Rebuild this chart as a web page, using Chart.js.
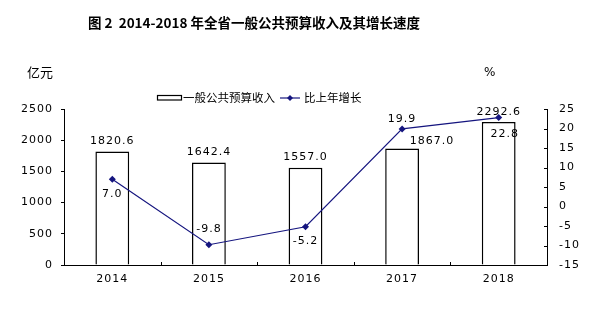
<!DOCTYPE html>
<html>
<head>
<meta charset="utf-8">
<script src="https://cdn.jsdelivr.net/npm/chart.js@4"></script>
<style>
  html, body { margin: 0; padding: 0; background: #fff; }
  canvas { display: block; }
</style>
</head>
<body>
<canvas id="grafico" width="613" height="324"></canvas>
<script>
// dados do gráfico
const anos = ['2014', '2015', '2016', '2017', '2018'];
const receita = [1820.6, 1642.4, 1557.0, 1867.0, 2292.6];
const crescimento = [7.0, -9.8, -5.2, 19.9, 22.8];
const eixoReceita = [0, 2500, 500];   // min, max, passo
const eixoCrescimento = [-15, 25, 5];

const titulo = '图 2  2014-2018 年全省一般公共预算收入及其增长速度';
const unidadeEsq = '亿元';
const unidadeDir = '%';
const nomes = ['一般公共预算收入', '比上年增长'];

const AZUL = '#15157f';
const FONTE = '"DejaVu Sans", Arial, sans-serif';
const FONTE_CJK = '"Noto Sans CJK SC", "Noto Sans", sans-serif';

// deslocamentos dos rótulos (px)
const offBarra = [[0, -10], [0, -10], [0, -11], [30, -7], [0, -10]];
const offLinha = [[0, 15], [0, -16], [0, 14], [0, -10], [6, 17]];

const extras = {
    id: 'extras',
    beforeDraw(chart) {
        chart.ctx.letterSpacing = '1px';
    },
    afterDraw(chart) {
        const ctx = chart.ctx;
        const area = chart.chartArea;
        ctx.save();
        ctx.letterSpacing = '0px';
        ctx.fillStyle = '#000';
        ctx.textBaseline = 'middle';

        // título
        ctx.font = 'bold 13.5px ' + FONTE_CJK;
        ctx.textAlign = 'center';
        ctx.fillText(titulo, 254, 23);

        // unidades
        ctx.font = '13px ' + FONTE_CJK;
        ctx.textAlign = 'left';
        ctx.fillText(unidadeEsq, 27, 72);
        ctx.font = '12px ' + FONTE;
        ctx.fillText(unidadeDir, 484, 73);

        // legenda
        ctx.strokeStyle = '#000';
        ctx.lineWidth = 1.2;
        ctx.fillStyle = '#fff';
        ctx.fillRect(157.5, 95.5, 24, 4.5);
        ctx.strokeRect(157.5, 95.5, 24, 4.5);
        ctx.fillStyle = '#000';
        ctx.font = '11.5px ' + FONTE_CJK;
        ctx.fillText(nomes[0], 183, 98);
        ctx.strokeStyle = AZUL;
        ctx.lineWidth = 1.2;
        ctx.beginPath();
        ctx.moveTo(280, 98);
        ctx.lineTo(300, 98);
        ctx.stroke();
        ctx.fillStyle = AZUL;
        ctx.beginPath();
        ctx.moveTo(290, 95);
        ctx.lineTo(293, 98);
        ctx.lineTo(290, 101);
        ctx.lineTo(287, 98);
        ctx.closePath();
        ctx.fill();
        ctx.fillStyle = '#000';
        ctx.fillText(nomes[1], 304, 98);

        // marcas internas dos eixos
        ctx.strokeStyle = '#000';
        ctx.lineWidth = 1;
        const x = chart.scales.x;
        ctx.beginPath();
        for (let i = 1; i < anos.length; i++) {
            const px = Math.round((x.getPixelForTick(i - 1) + x.getPixelForTick(i)) / 2) + 0.5;
            ctx.moveTo(px, area.bottom);
            ctx.lineTo(px, area.bottom - 3);
        }
        const y2 = chart.scales.y2;
        y2.ticks.forEach(t => {
            const py = Math.round(y2.getPixelForValue(t.value)) + 0.5;
            ctx.moveTo(area.right, py);
            ctx.lineTo(area.right - 3, py);
        });
        ctx.stroke();

        // rótulos de dados
        ctx.font = '11px ' + FONTE;
        ctx.letterSpacing = '1px';
        ctx.textAlign = 'center';
        ctx.fillStyle = '#000';
        chart.getDatasetMeta(0).data.forEach((el, i) => {
            ctx.fillText(receita[i].toFixed(1), el.x + offBarra[i][0], el.y + offBarra[i][1]);
        });
        chart.getDatasetMeta(1).data.forEach((el, i) => {
            ctx.fillText(crescimento[i].toFixed(1), el.x + offLinha[i][0], el.y + offLinha[i][1]);
        });
        ctx.restore();
    }
};

const semVirgula = v => String(v);

new Chart(document.getElementById('grafico'), {
    type: 'bar',
    data: {
        labels: anos,
        datasets: [
            {
                type: 'bar',
                label: nomes[0],
                data: receita,
                yAxisID: 'y',
                backgroundColor: '#fff',
                borderColor: '#000',
                borderWidth: 1.5,
                barPercentage: 0.35,
                categoryPercentage: 1,
                order: 1
            },
            {
                type: 'line',
                label: nomes[1],
                data: crescimento,
                yAxisID: 'y2',
                borderColor: AZUL,
                backgroundColor: AZUL,
                borderWidth: 1.2,
                pointStyle: 'rectRot',
                pointRadius: 3.5,
                pointBorderWidth: 0,
                tension: 0,
                order: 0
            }
        ]
    },
    options: {
        responsive: false,
        animation: false,
        devicePixelRatio: 1,
        layout: { padding: { top: 109, left: 0, right: 0, bottom: 0 } },
        plugins: {
            legend: { display: false },
            title: { display: false },
            tooltip: { enabled: false }
        },
        scales: {
            x: {
                grid: { display: true, drawOnChartArea: false, drawTicks: false },
                border: { display: true, color: '#000', width: 1 },
                ticks: { color: '#000', font: { family: FONTE, size: 11 }, padding: 8 },
                afterFit(s) { s.height = 59; }
            },
            y: {
                position: 'left',
                min: eixoReceita[0],
                max: eixoReceita[1],
                grid: { drawOnChartArea: false, drawTicks: true, tickLength: 3, color: '#000' },
                border: { display: true, color: '#000', width: 1 },
                ticks: { stepSize: eixoReceita[2], color: '#000', font: { family: FONTE, size: 11 }, padding: 8, callback: semVirgula },
                afterFit(s) { s.width = 64; }
            },
            y2: {
                position: 'right',
                min: eixoCrescimento[0],
                max: eixoCrescimento[1],
                grid: { drawOnChartArea: false, drawTicks: false },
                border: { display: true, color: '#000', width: 1 },
                ticks: { stepSize: eixoCrescimento[2], color: '#000', font: { family: FONTE, size: 11 }, padding: 12, callback: semVirgula },
                afterFit(s) { s.width = 66; }
            }
        }
    },
    plugins: [extras]
});
</script>
</body>
</html>
